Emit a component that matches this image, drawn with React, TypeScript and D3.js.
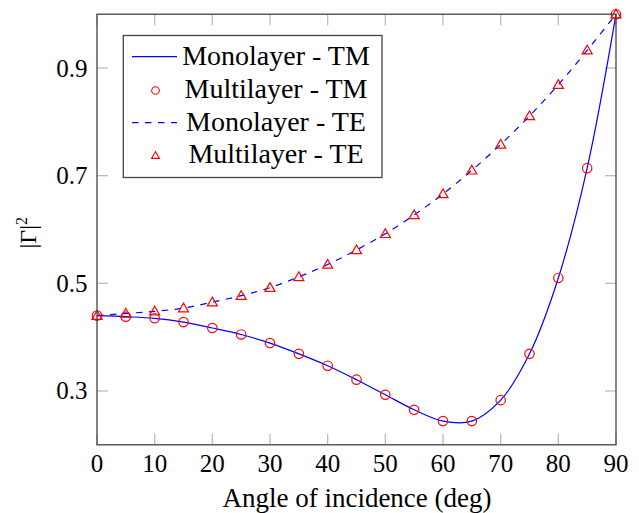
import React from "react";
import * as d3 from "d3";

// Incidence angles (deg) and reflected power |Γ|² for each polarisation
const angles = [0, 5, 10, 15, 20, 25, 30, 35, 40, 45, 50, 55, 60, 65, 70, 75, 80, 85, 90];
const tmValues = [0.44, 0.438, 0.435, 0.428, 0.417, 0.405, 0.389, 0.369, 0.347, 0.321, 0.293, 0.265, 0.244, 0.244, 0.283, 0.369, 0.51, 0.714, 1.0];
const teValues = [0.44, 0.444, 0.448, 0.454, 0.465, 0.477, 0.492, 0.512, 0.535, 0.562, 0.592, 0.627, 0.666, 0.71, 0.758, 0.811, 0.869, 0.933, 1.0];

const xTicks = [0, 10, 20, 30, 40, 50, 60, 70, 80, 90];
const yTicks = [0.3, 0.5, 0.7, 0.9];
const legendLabels = ["Monolayer - TM", "Multilayer - TM", "Monolayer - TE", "Multilayer - TE"];

const W = 639;
const H = 513;
const plot = { left: 97, right: 616, top: 14.2, bottom: 444.8 };
const serif = '"Liberation Serif", serif';
const frameColor = "#444";
const tickColor = "#bdbdbd";
const blue = "#0000ff";
const red = "#ff0000";

function trianglePath(cx: number, cy: number, r: number) {
  const h = r * 1.5;
  const half = r * Math.sqrt(3) / 2;
  return `M${cx},${cy - r}L${cx + half},${cy + h - r}L${cx - half},${cy + h - r}Z`;
}

export default function App() {
  const x = d3.scaleLinear().domain([0, 90]).range([plot.left, plot.right]);
  const y = d3.scaleLinear().domain([0.2, 1.0]).range([plot.bottom, plot.top]);

  const tm = angles.map((a, i) => [a, tmValues[i]] as [number, number]);
  const te = angles.map((a, i) => [a, teValues[i]] as [number, number]);

  const line = d3
    .line<[number, number]>()
    .x((d) => x(d[0]))
    .y((d) => y(d[1]))
    .curve(d3.curveCatmullRom.alpha(0.5));

  const tickLen = 11;
  const legend = { x0: 123.3, y0: 35.5, x1: 382, y1: 177.5 };
  const rowBase = [65, 97.7, 130.5, 162.5];
  const rowMid = [56.7, 90.5, 122.7, 155.5];
  const textStyle = { fontFamily: serif };

  return (
    <svg width={W} height={H} style={{ position: "absolute", left: 0, top: 0 }}>
      <rect x={0} y={0} width={W} height={H} fill="white" />

      {/* inward tick marks on all four sides */}
      <g stroke={tickColor} strokeWidth={1.3}>
        {xTicks.map((t) => (
          <g key={"xt" + t}>
            <line x1={x(t)} x2={x(t)} y1={plot.bottom} y2={plot.bottom - tickLen} />
            <line x1={x(t)} x2={x(t)} y1={plot.top} y2={plot.top + tickLen} />
          </g>
        ))}
        {yTicks.map((t) => (
          <g key={"yt" + t}>
            <line x1={plot.left} x2={plot.left + tickLen} y1={y(t)} y2={y(t)} />
            <line x1={plot.right} x2={plot.right - tickLen} y1={y(t)} y2={y(t)} />
          </g>
        ))}
      </g>

      {/* curves */}
      <path d={line(tm) ?? ""} fill="none" stroke={blue} strokeWidth={1.2} />
      <path d={line(te) ?? ""} fill="none" stroke={blue} strokeWidth={1.2} strokeDasharray="6.5,6.5" />

      {/* markers */}
      <g fill="none" stroke={red} strokeWidth={1.2}>
        {tm.map((d, i) => (
          <circle key={"c" + i} cx={x(d[0])} cy={y(d[1])} r={4.7} />
        ))}
        {te.map((d, i) => (
          <path key={"t" + i} d={trianglePath(x(d[0]), y(d[1]) + 0.8, 5.8)} />
        ))}
      </g>

      {/* frame */}
      <rect
        x={plot.left}
        y={plot.top}
        width={plot.right - plot.left}
        height={plot.bottom - plot.top}
        fill="none"
        stroke={frameColor}
        strokeWidth={1.3}
      />

      {/* tick labels */}
      <g fontSize={25} fill="#000">
        {xTicks.map((t) => (
          <text key={"xl" + t} x={x(t)} y={471.5} textAnchor="middle" style={textStyle}>
            {t}
          </text>
        ))}
        {yTicks.map((t) => (
          <text key={"yl" + t} x={87.5} y={y(t) + 8.5} textAnchor="end" style={textStyle}>
            {d3.format(".1f")(t)}
          </text>
        ))}
      </g>

      {/* axis titles */}
      <text x={357} y={507} textAnchor="middle" style={textStyle} fontSize={27} fill="#000">
        Angle of incidence (deg)
      </text>
      <text transform="translate(36,248.5) rotate(-90)" style={textStyle} fontSize={24} fill="#000">
        |Γ|
        <tspan fontSize={16} dy={-9.5}>
          2
        </tspan>
      </text>

      {/* legend */}
      <rect
        x={legend.x0}
        y={legend.y0}
        width={legend.x1 - legend.x0}
        height={legend.y1 - legend.y0}
        fill="white"
        stroke={frameColor}
        strokeWidth={1.3}
      />
      <line x1={132} x2={177} y1={rowMid[0]} y2={rowMid[0]} stroke={blue} strokeWidth={1.2} />
      <circle cx={155.5} cy={rowMid[1]} r={3.8} fill="none" stroke={red} strokeWidth={1.1} />
      <line
        x1={132}
        x2={177}
        y1={rowMid[2]}
        y2={rowMid[2]}
        stroke={blue}
        strokeWidth={1.2}
        strokeDasharray="6.5,6.5"
      />
      <path d={trianglePath(155.5, rowMid[3] + 0.6, 4.6)} fill="none" stroke={red} strokeWidth={1.1} />
      <g fontSize={28} fill="#000">
        {legendLabels.map((l, i) => (
          <text key={l} x={276} y={rowBase[i]} textAnchor="middle" style={textStyle}>
            {l}
          </text>
        ))}
      </g>
    </svg>
  );
}
